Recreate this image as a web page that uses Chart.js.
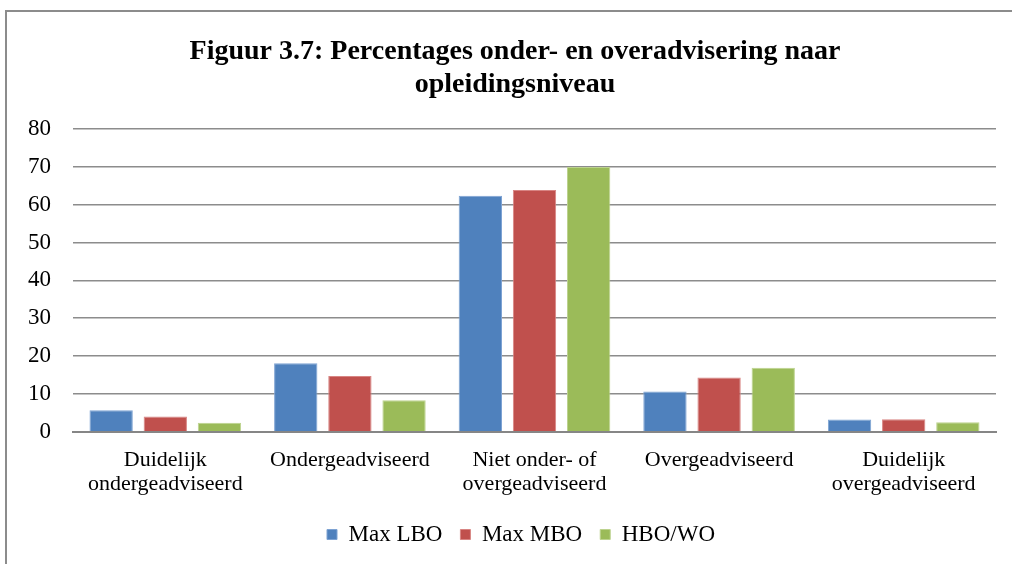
<!DOCTYPE html>
<html>
<head>
    <meta charset="utf-8">
    <script src="https://cdn.jsdelivr.net/npm/chart.js"></script>
    <style>
        body { margin: 0; background: #fff; }
        #wrap { position: relative; width: 1012px; height: 564px; overflow: hidden; }
        #frame { position: absolute; left: 5px; top: 10px; width: 1030px; height: 580px; border: 2px solid #8c8c8c; box-sizing: border-box; }
        #myChart { position: absolute; left: 0; top: 0; }
    </style>
</head>
<body>
<div id="wrap">
    <div id="frame"></div>
    <canvas id="myChart" width="1012" height="564"></canvas>
</div>
<script>
    // data
    var categories = [
        ['Duidelijk', 'ondergeadviseerd'],
        'Ondergeadviseerd',
        ['Niet onder- of', 'overgeadviseerd'],
        'Overgeadviseerd',
        ['Duidelijk', 'overgeadviseerd']
    ];
    var maxLBO = [5.7, 18.1, 62.4, 10.6, 3.2];
    var maxMBO = [4.0, 14.7, 63.9, 14.3, 3.3];
    var hboWO = [2.4, 8.3, 70.0, 16.9, 2.5];
    var yTicks = [0, 10, 20, 30, 40, 50, 60, 70, 80];

    var serif = "'Liberation Serif', 'Times New Roman', serif";

    // the legend in the original sits a bit right of centre
    const legendShift = {
        id: 'legendShift',
        afterLayout: function (chart) {
            if (chart.legend) {
                chart.legend.left += 20;
                chart.legend.right += 20;
            }
        }
    };

    const data = {
        labels: categories,
        datasets: [
            { label: 'Max LBO', data: maxLBO, backgroundColor: '#4f81bd', borderColor: '#7ea3d3', borderWidth: 1 },
            { label: 'Max MBO', data: maxMBO, backgroundColor: '#c0504d', borderColor: '#d88583', borderWidth: 1 },
            { label: 'HBO/WO', data: hboWO, backgroundColor: '#9bbb59', borderColor: '#bdd38f', borderWidth: 1 }
        ]
    };

    const config = {
        type: 'bar',
        data: data,
        plugins: [legendShift],
        options: {
            responsive: false,
            animation: false,
            categoryPercentage: 0.88,
            barPercentage: 0.8,
            layout: { padding: { left: 6, right: 16, top: 35, bottom: 8 } },
            plugins: {
                title: {
                    display: true,
                    // leading spaces nudge the title right, like the original
                    text: ['    Figuur 3.7: Percentages onder- en overadvisering naar', '    opleidingsniveau'],
                    color: '#000',
                    font: { family: serif, size: 28, weight: 'bold', lineHeight: 1.18 },
                    padding: { top: 0, bottom: 28 }
                },
                legend: {
                    position: 'bottom',
                    labels: {
                        color: '#000',
                        font: { family: serif, size: 23 },
                        boxWidth: 10,
                        boxHeight: 10,
                        padding: 18
                    }
                },
                tooltip: { enabled: false }
            },
            scales: {
                x: {
                    grid: { display: false, drawTicks: false },
                    border: { color: '#868686', width: 2 },
                    ticks: {
                        color: '#000',
                        font: { family: serif, size: 22, lineHeight: 1.12 },
                        padding: 16,
                        maxRotation: 0,
                        autoSkip: false
                    },
                    afterFit: function (axis) {
                        axis.height -= 8;
                    }
                },
                y: {
                    min: 0,
                    max: 80,
                    afterBuildTicks: function (axis) {
                        axis.ticks = yTicks.map(function (v) { return { value: v }; });
                    },
                    grid: { color: '#8c8c8c', lineWidth: 1.5, drawTicks: false },
                    border: { display: false },
                    ticks: {
                        color: '#000',
                        font: { family: serif, size: 23 },
                        padding: 22
                    }
                }
            }
        }
    };

    const myChart = new Chart(document.getElementById('myChart'), config);
</script>
</body>
</html>
